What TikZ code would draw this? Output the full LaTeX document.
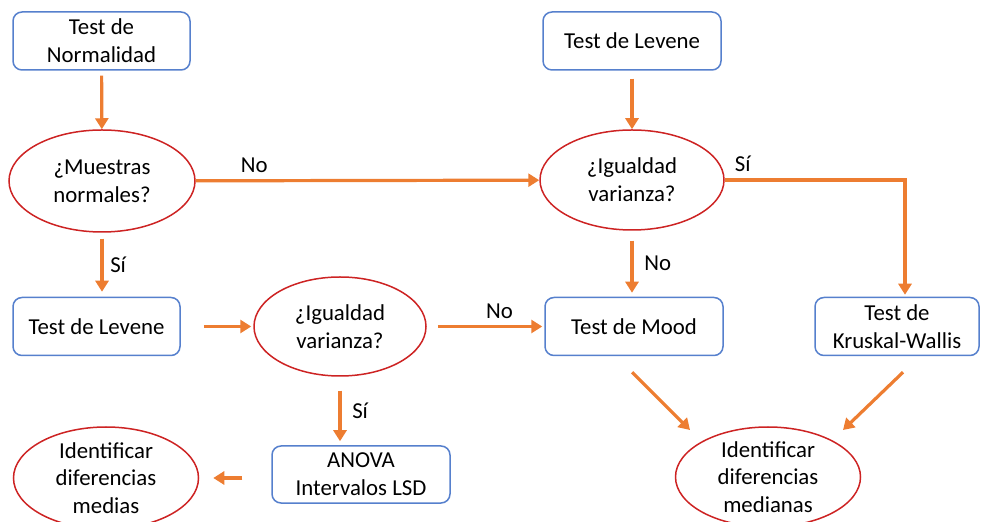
\documentclass[tikz,border=0pt]{standalone}
\usepackage{fontspec}
\setmainfont{Carlito}
\usetikzlibrary{shapes.geometric,arrows.meta}
\definecolor{naranja}{RGB}{237,125,49}
\definecolor{azulC}{RGB}{86,128,205}
\definecolor{rojoE}{RGB}{205,35,35}

\begin{document}
\begin{tikzpicture}[x=0.5pt,y=-0.5pt,font=\fontsize{11.4}{13.9}\selectfont,
    caja/.style={draw=azulC,line width=0.75pt,rounded corners=4.5pt,minimum height=29pt,align=center,inner sep=0pt},
    pregunta/.style={ellipse,draw=rojoE,line width=0.75pt,minimum width=93pt,minimum height=51pt,align=center,inner sep=0pt},
    flecha/.style={draw=naranja,line width=1.6pt,-{Triangle[length=5.5pt,width=6.5pt]}}]
    \useasboundingbox (0,0) rectangle (983,522);
    % cajas
    \node[caja,minimum width=88.5pt] (normalidad) at (101.5,41) {Test de\\Normalidad};
    \node[caja,minimum width=89pt] (leveneB) at (632,41) {Test de Levene};
    \node[caja,minimum width=83.5pt] (leveneA) at (96.5,326.5) {Test de Levene};
    \node[caja,minimum width=89pt] (mood) at (634,326.5) {Test de Mood};
    \node[caja,minimum width=82pt] (kruskal) at (897,326.5) {Test de\\Kruskal-Wallis};
    \node[caja,minimum width=89pt,minimum height=28.5pt] (anova) at (361,474.5) {ANOVA\\Intervalos LSD};
    % elipses
    \node[pregunta] (muestras) at (102,181) {¿Muestras\\normales?};
    \node[pregunta,minimum width=92pt,minimum height=50pt] (igualdadB) at (632,180) {¿Igualdad\\varianza?};
    \node[pregunta,minimum width=86pt,minimum height=49.5pt] (igualdadA) at (340,326.5) {¿Igualdad\\varianza?};
    \node[pregunta,minimum width=92.5pt,inner ysep=-4pt] (medias) at (106,478) {Identificar\\diferencias\\medias};
    \node[pregunta,minimum width=92.5pt,minimum height=50pt,inner ysep=-4pt] (medianas) at (768,477) {Identificar\\diferencias\\medianas};
    % flechas
    \draw[flecha,shorten <=2.5pt] (normalidad) -- (muestras);
    \draw[flecha] (muestras) -- node[above,pos=0.17]{No} (igualdadB);
    \draw[flecha,shorten <=4pt] (leveneB) -- (igualdadB);
    \draw[flecha,shorten >=1pt] (igualdadB.east) -| node[above,pos=0.05]{Sí} ([xshift=4pt]kruskal.north);
    \draw[flecha,shorten <=5pt,shorten >=2pt] (igualdadB.south) -- node[right,xshift=2pt]{No} (igualdadB.south |- mood.north);
    \draw[flecha,shorten <=3pt,shorten >=2.5pt] (muestras.south) -- node[right]{Sí} (muestras.south |- leveneA.north);
    \draw[flecha,shorten <=11.5pt,shorten >=1pt] (leveneA) -- (igualdadA);
    \draw[flecha,shorten <=5.5pt,shorten >=1pt] (igualdadA) -- node[above,pos=0.62]{No} (mood);
    \draw[flecha,shorten <=7pt,shorten >=2pt] (igualdadA.south) -- node[right,xshift=2pt]{Sí} (igualdadA.south |- anova.north);
    \draw[flecha,shorten <=14.5pt,shorten >=7pt] (anova.west |- medias.east) -- (medias.east);
    \coordinate (puntaA) at (690,430);
    \coordinate (puntaB) at (843,430);
    \draw[flecha] ([xshift=-1pt,yshift=-8pt]mood.south) -- (puntaA);
    \draw[flecha] ([xshift=3pt,yshift=-8pt]kruskal.south) -- (puntaB);
\end{tikzpicture}
\end{document}
